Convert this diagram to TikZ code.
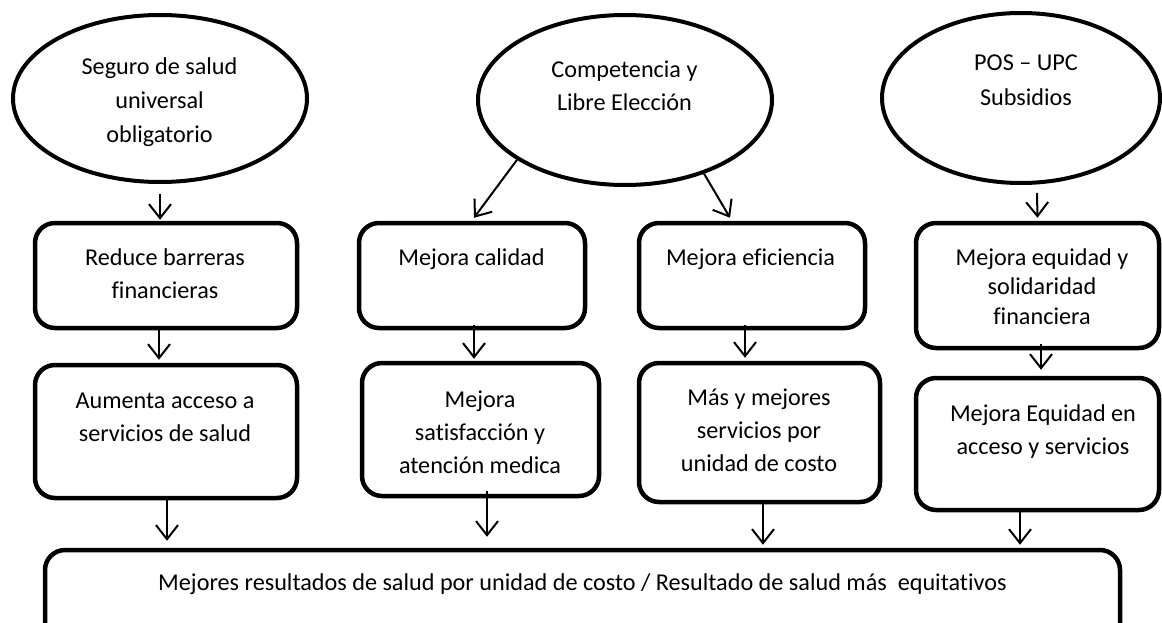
\documentclass[tikz,border=0pt]{standalone}
\usepackage{fontspec}
\setmainfont{Carlito}[Ligatures={NoCommon}]
\usetikzlibrary{shapes.geometric,arrows.meta}
\begin{document}
\begin{tikzpicture}[x=1pt,y=-1pt,
  box/.style={draw, line width=4.5pt, rounded corners=20pt, inner sep=0pt},
  oval/.style={draw, ellipse, line width=4pt, inner sep=0pt},
  txt/.style={anchor=north, align=center, inner sep=0pt, font=\fontsize{24.2}{33}\selectfont},
  arr/.style={-{Straight Barb[length=14pt,width=22pt]}, line width=2pt}]
\clip (0,0) rectangle (1162,623);
% ellipses
\node[oval, minimum width=294pt, minimum height=167pt] (e1) at (160,98.5) {};
\node[oval, minimum width=294pt, minimum height=170pt] (e2) at (625,100) {};
\node[oval, minimum width=278pt, minimum height=170pt] (e3) at (1021,98) {};
% boxes
\node[box, minimum width=262pt, minimum height=105pt] (b1) at (166,275.5) {};
\node[box, minimum width=226pt, minimum height=105pt] (b2) at (472,275.5) {};
\node[box, minimum width=226pt, minimum height=105pt] (b3) at (752,275.5) {};
\node[box, minimum width=243pt, minimum height=125pt] (b4) at (1037.5,285.5) {};
\node[box, minimum width=262pt, minimum height=133pt] (b5) at (166,431.5) {};
\node[box, minimum width=237pt, minimum height=133pt] (b6) at (480.5,429.5) {};
\node[box, minimum width=241pt, minimum height=139pt] (b7) at (759.5,432.5) {};
\node[box, minimum width=243pt, minimum height=132pt] (b8) at (1037.5,444) {};
\node[box, minimum width=1075pt, minimum height=100pt] (bot) at (582.5,600) {};
% texts
\node[txt, font=\fontsize{24.2}{34}\selectfont] (t1) at (159.5,50.2) {\strut Seguro de salud\\universal\\obligatorio};
\node[txt] (t2) at (624.5,53.9) {\strut Competencia y\\Libre Elección};
\node[txt, font=\fontsize{24.2}{35}\selectfont] (t3) at (1026,45.5) {\strut POS -- UPC\\Subsidios};
\node[txt] (tb1) at (165,241.9) {\strut Reduce barreras\\financieras};
\node[txt] (tb2) at (471.5,241.9) {\strut Mejora calidad};
\node[txt] (tb3) at (750.5,241.9) {\strut Mejora eficiencia};
\node[txt, font=\fontsize{24.2}{29.5}\selectfont] (tb4) at (1042,244.35) {\strut Mejora equidad y\\solidaridad\\financiera};
\node[txt] (tb5) at (165,384.9) {\strut Aumenta acceso a\\servicios de salud};
\node[txt] (tb6) at (480,383.9) {\strut Mejora\\satisfacción y\\atención medica};
\node[txt] (tb7) at (759,381.9) {\strut Más y mejores\\servicios por\\unidad de costo};
\node[txt] (tb8) at (1043,397.9) {\strut Mejora Equidad en\\acceso y servicios};
\node[txt] (tbot) at (582.5,566.9) {\strut Mejores resultados de salud por unidad de costo / Resultado de salud más\ \ equitativos};
% arrows
\draw[arr] ([yshift=-10pt]e1.south) -- ([xshift=-6pt,yshift=1pt]b1.north);
\draw[arr] (e2.-151) -- ([xshift=2pt,yshift=3pt]b2.north);
\draw[arr] (e2.-43) -- ([xshift=-22pt,yshift=3pt]b3.north);
\draw[arr] ([xshift=16pt,yshift=-8pt]e3.south) -- ([xshift=0pt,yshift=3pt]b4.north);
\draw[arr] ([xshift=-7pt,yshift=3pt]b1.south) -- ([xshift=-7pt,yshift=3pt]b5.north);
\draw[arr] ([xshift=2pt,yshift=5pt]b2.south) -- ([xshift=-6.5pt,yshift=2pt]b6.north);
\draw[arr] ([xshift=-7pt,yshift=5pt]b3.south) -- ([xshift=-14.5pt,yshift=3pt]b7.north);
\draw[arr] ([xshift=3.5pt,yshift=6pt]b4.south) -- ([xshift=3.5pt,yshift=6pt]b8.north);
\draw[arr] ([xshift=1pt]b5.south) -- ([xshift=-415.5pt,yshift=7pt]bot.north);
\draw[arr] ([xshift=6.5pt,yshift=7pt]b6.south) -- ([xshift=-95.5pt,yshift=11pt]bot.north);
\draw[arr] ([xshift=3.5pt]b7.south) -- ([xshift=180.5pt,yshift=3pt]bot.north);
\draw[arr] ([xshift=-17.5pt]b8.south) -- ([xshift=437.5pt,yshift=3pt]bot.north);
\end{tikzpicture}
\end{document}
